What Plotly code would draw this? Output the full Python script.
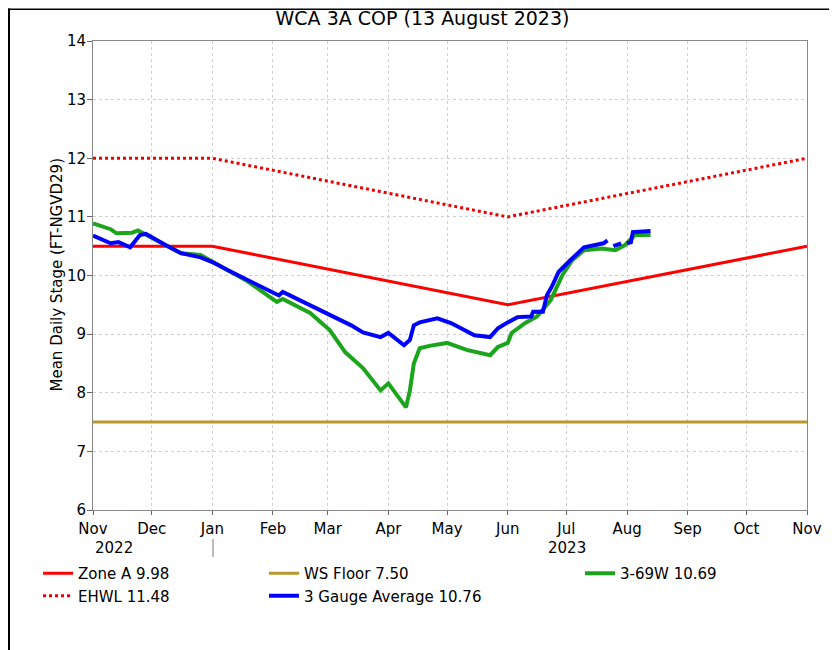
import plotly.graph_objects as go

# ---- data ----
rule_dates = ["2022-11-01", "2023-01-01", "2023-06-01", "2023-11-01"]
zone_a = [10.5, 10.5, 9.5, 10.5]
ehwl = [12.0, 12.0, 11.0, 12.0]
ws_dates = ["2022-11-01", "2023-11-01"]
ws_floor = [7.5, 7.5]

green_dates = ["2022-11-01", "2022-11-10", "2022-11-13", "2022-11-21", "2022-11-24", "2022-11-29",
               "2022-12-08", "2022-12-16", "2022-12-26", "2023-01-01", "2023-01-09", "2023-01-19",
               "2023-02-03", "2023-02-06", "2023-02-20", "2023-03-02", "2023-03-10", "2023-03-19",
               "2023-03-28", "2023-04-01", "2023-04-10", "2023-04-12", "2023-04-14", "2023-04-17",
               "2023-04-22", "2023-05-01", "2023-05-11", "2023-05-23", "2023-05-27", "2023-06-01",
               "2023-06-03", "2023-06-10", "2023-06-16", "2023-06-20", "2023-06-23", "2023-06-29",
               "2023-07-04", "2023-07-10", "2023-07-19", "2023-07-26", "2023-07-31", "2023-08-05",
               "2023-08-13"]
green_vals = [10.89, 10.79, 10.72, 10.73, 10.77, 10.68,
              10.52, 10.38, 10.35, 10.24, 10.09, 9.90,
              9.55, 9.60, 9.36, 9.07, 8.69, 8.42,
              8.04, 8.16, 7.75, 8.04, 8.50, 8.76,
              8.80, 8.85, 8.73, 8.64, 8.78, 8.85,
              9.02, 9.19, 9.30, 9.46, 9.58, 10.01,
              10.26, 10.43, 10.46, 10.43, 10.52, 10.69,
              10.69]

blue_dates = ["2022-11-01", "2022-11-10", "2022-11-14", "2022-11-20", "2022-11-25", "2022-11-28",
              "2022-12-08", "2022-12-16", "2022-12-26", "2023-01-01", "2023-01-09", "2023-01-19",
              "2023-02-04", "2023-02-06", "2023-02-20", "2023-03-02", "2023-03-13", "2023-03-19",
              "2023-03-28", "2023-04-01", "2023-04-09", "2023-04-12", "2023-04-14", "2023-04-17",
              "2023-04-26", "2023-05-03", "2023-05-15", "2023-05-23", "2023-05-27", "2023-06-01",
              "2023-06-06", "2023-06-13", "2023-06-14", "2023-06-19", "2023-06-21", "2023-06-24",
              "2023-06-27", "2023-07-03", "2023-07-10", "2023-07-20", "2023-07-22", "2023-07-23",
              "2023-07-25", "2023-07-29", "2023-07-30", "2023-08-01", "2023-08-03", "2023-08-04",
              "2023-08-13"]
blue_vals = [10.68, 10.55, 10.57, 10.48, 10.69, 10.71,
             10.52, 10.38, 10.31, 10.23, 10.09, 9.92,
             9.66, 9.72, 9.49, 9.32, 9.15, 9.03,
             8.95, 9.02, 8.81, 8.90, 9.15, 9.20,
             9.27, 9.19, 8.98, 8.95, 9.10, 9.20,
             9.29, 9.30, 9.38, 9.38, 9.66, 9.84,
             10.06, 10.26, 10.48, 10.55, 10.60, None,
             10.50, 10.55, None, 10.55, 10.57, 10.74,
             10.76]

month_ticks = ["2022-11-01", "2022-12-01", "2023-01-01", "2023-02-01", "2023-03-01", "2023-04-01",
               "2023-05-01", "2023-06-01", "2023-07-01", "2023-08-01", "2023-09-01", "2023-10-01",
               "2023-11-01"]
month_labels = ["Nov", "Dec", "Jan", "Feb", "Mar", "Apr", "May", "Jun", "Jul", "Aug", "Sep", "Oct", "Nov"]
y_ticks = [6, 7, 8, 9, 10, 11, 12, 13, 14]

FONT = "DejaVu Sans"
OFF = 8  # page body margin
W, H = 829, 642
L, T = 93 - OFF, 41 - OFF
R = W - (807 - OFF)
B = H - (510 - OFF)
PW, PH = W - L - R, H - T - B


def px_x(p):
    return (p - OFF - L) / PW


def px_y(p):
    return (H - B - (p - OFF)) / PH


fig = go.Figure()
fig.add_trace(go.Scatter(x=rule_dates, y=zone_a, mode="lines", name="Zone A 9.98",
                         line=dict(color="#ff0000", width=3), legend="legend"))
fig.add_trace(go.Scatter(x=rule_dates, y=ehwl, mode="lines", name="EHWL 11.48",
                         line=dict(color="#ee0000", width=3, dash="dot"), legend="legend"))
fig.add_trace(go.Scatter(x=ws_dates, y=ws_floor, mode="lines", name="WS Floor 7.50",
                         line=dict(color="#b8982a", width=3), legend="legend2", legendrank=1000))
fig.add_trace(go.Scatter(x=green_dates, y=green_vals, mode="lines", name="3-69W 10.69",
                         line=dict(color="#1ca51c", width=4), legend="legend3"))
fig.add_trace(go.Scatter(x=blue_dates, y=blue_vals, mode="lines", name="3 Gauge Average 10.76",
                         line=dict(color="#0000ff", width=4), legend="legend2", connectgaps=False,
                         legendrank=2000))

leg_common = dict(orientation="v", xanchor="left", yanchor="top", bgcolor="rgba(0,0,0,0)",
                  font=dict(family=FONT, size=15, color="#000"), itemwidth=30,
                  traceorder="normal", tracegroupgap=0)
axis_font = dict(family=FONT, size=15, color="#000")
fig.update_layout(
    width=W, height=H,
    margin=dict(l=L, r=R, t=T, b=B, autoexpand=False),
    paper_bgcolor="white", plot_bgcolor="white",
    title=dict(text="WCA 3A COP (13 August 2023)", x=0.5, xanchor="center",
               y=1 - (18 - OFF) / H, yanchor="middle",
               font=dict(family=FONT, size=19, color="#000")),
    legend=dict(x=px_x(38), y=px_y(557), **leg_common),
    legend2=dict(x=px_x(264), y=px_y(557), **leg_common),
    legend3=dict(x=px_x(580), y=px_y(557), **leg_common),
    xaxis=dict(type="date", range=["2022-11-01", "2023-11-01"], tickvals=month_ticks,
               ticktext=month_labels, showgrid=True, gridcolor="#cfcfcf", griddash="3px,3px",
               gridwidth=1, ticks="outside", ticklen=4, tickcolor="#666",
               ticklabelstandoff=1,
               showline=True, linecolor="#888", linewidth=1, mirror=True,
               tickfont=axis_font, zeroline=False),
    yaxis=dict(range=[6, 14], tickvals=y_ticks, showgrid=True, gridcolor="#cfcfcf",
               griddash="3px,3px", gridwidth=1, ticks="outside", ticklen=5, tickcolor="#666",
               ticklabelstandoff=-2,
               showline=True, linecolor="#888", linewidth=1, mirror=True,
               tickfont=axis_font, zeroline=False),
    showlegend=True,
)

# y axis title (placed as annotation to match position)
fig.add_annotation(x=px_x(56), y=0.5, xref="paper", yref="paper",
                   text="Mean Daily Stage (FT-NGVD29)", textangle=-90, showarrow=False,
                   font=axis_font, xanchor="center", yanchor="middle")
# year labels and separator
fig.add_annotation(x=px_x(114), y=px_y(548), xref="paper", yref="paper", text="2022",
                   showarrow=False, font=axis_font, xanchor="center", yanchor="middle")
fig.add_annotation(x=px_x(567), y=px_y(548), xref="paper", yref="paper", text="2023",
                   showarrow=False, font=axis_font, xanchor="center", yanchor="middle")
fig.add_shape(type="line", xref="paper", yref="paper", x0=px_x(213), x1=px_x(213),
              y0=px_y(539), y1=px_y(557), line=dict(color="#777", width=1))
# outer frame (edges drawn as thin filled bars)
fx0, fx1, fy0 = px_x(8), px_x(831), px_y(700)
fig.add_shape(type="rect", xref="paper", yref="paper", x0=fx0, x1=fx1,
              y0=px_y(10), y1=px_y(8.5), fillcolor="#000", line=dict(width=0), layer="above")
fig.add_shape(type="rect", xref="paper", yref="paper", x0=fx0, x1=px_x(10),
              y0=fy0, y1=px_y(8.5), fillcolor="#000", line=dict(width=0), layer="above")
fig.add_shape(type="rect", xref="paper", yref="paper", x0=px_x(829.5), x1=fx1,
              y0=fy0, y1=px_y(8.5), fillcolor="#000", line=dict(width=0), layer="above")

fig.write_html("out.html")
